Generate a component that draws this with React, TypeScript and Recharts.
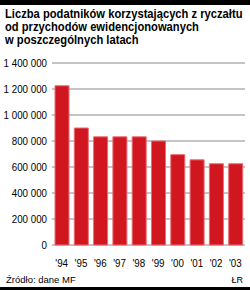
import { BarChart, Bar, XAxis, YAxis, CartesianGrid } from "recharts";

const YEARS = ["'94", "'95", "'96", "'97", "'98", "'99", "'00", "'01", "'02", "'03"];
const TAXPAYERS = [1225000, 900000, 832000, 832000, 832000, 800000, 695000, 655000, 625000, 625000];
const Y_TICKS = [0, 200000, 400000, 600000, 800000, 1000000, 1200000, 1400000];

const RED = "#d0161f";
const SANS = "'Liberation Sans', Arial, sans-serif";

const data = YEARS.map((year, i) => ({ year, value: TAXPAYERS[i] }));

const fmt = (v: number) => String(v).replace(/\B(?=(\d{3})+(?!\d))/g, " ");

// condensed look: squeeze regular sans horizontally
function YTick({ y, payload }: any) {
  return (
    <g transform={`translate(47,${y}) scale(0.85,1)`}>
      <text x={0} y={0} dy={4} textAnchor="end" fontSize={11.5} fill="#000" fontFamily={SANS}>
        {fmt(payload.value)}
      </text>
    </g>
  );
}

function XTick({ x, payload }: any) {
  return (
    <g transform={`translate(${x},267) scale(0.85,1)`}>
      <text x={0} y={0} textAnchor="middle" fontSize={11.5} fill="#000" fontFamily={SANS}>
        {payload.value}
      </text>
    </g>
  );
}

export default function App() {
  return (
    <div style={{ position: "absolute", left: 0, top: 0, width: 250, height: 290, background: "#fff", fontFamily: SANS }}>
      <div style={{ position: "absolute", left: 0, top: 0, width: 250, height: 5, background: "#000" }} />
      <div
        style={{
          position: "absolute",
          left: 5,
          top: 8,
          fontSize: 12.5,
          fontWeight: "bold",
          lineHeight: "13px",
          color: "#000",
          whiteSpace: "nowrap",
          transform: "scaleX(0.895)",
          transformOrigin: "left top",
        }}
      >
        Liczba podatników korzystających z ryczałtu
        <br />
        od przychodów ewidencjonowanych
        <br />
        w poszczególnych latach
      </div>
      <div style={{ position: "absolute", left: 0, top: 0 }}>
        <BarChart width={250} height={290} data={data} margin={{ top: 63, right: 5, bottom: 25, left: 0 }}>
          <CartesianGrid horizontal vertical={false} stroke="#8a8a8a" strokeWidth={1} />
          <XAxis dataKey="year" axisLine={false} tickLine={false} height={20} interval={0} tick={<XTick />} />
          <YAxis
            width={52}
            domain={[0, 1400000]}
            ticks={Y_TICKS}
            axisLine={false}
            tickLine={false}
            tick={<YTick />}
          />
          <Bar dataKey="value" fill={RED} stroke="#ec6b73" strokeWidth={1} barSize={14} isAnimationActive={false} />
        </BarChart>
      </div>
      <div style={{ position: "absolute", left: 6, top: 274, fontSize: 9.5, lineHeight: "12px", fontFamily: SANS, color: "#000" }}>
        Źródło: dane MF
      </div>
      <div style={{ position: "absolute", right: 7, top: 275, fontSize: 9, lineHeight: "11px", fontFamily: SANS, color: "#000" }}>ŁR</div>
      <div style={{ position: "absolute", left: 0, top: 287, width: 250, height: 3, background: "#000" }} />
    </div>
  );
}
